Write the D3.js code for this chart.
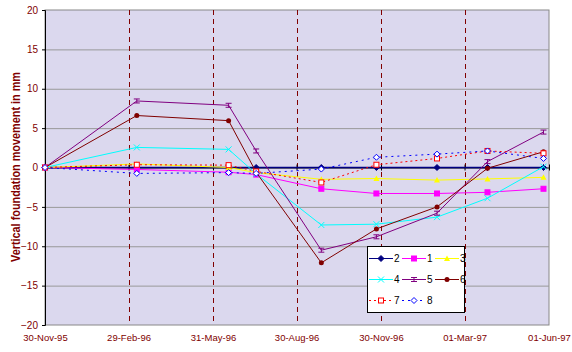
<!DOCTYPE html>
<html>
<head>
<meta charset="utf-8">
<script src="https://cdn.jsdelivr.net/npm/d3@7"></script>
<style>
  body { margin: 0; background: #fff; }
  text { font-family: Arial, "Liberation Sans", sans-serif; }
  .tick text { font-family: "Liberation Sans Narrow", "Arial Narrow", Arial, sans-serif; }
</style>
</head>
<body>
<div id="chart-area"></div>
<script>
// survey dates (x values of the points)
var dates = ["1995-11-30", "1996-03-09", "1996-06-17", "1996-07-17", "1996-09-26",
             "1996-11-25", "1997-01-30", "1997-03-26", "1997-05-26"];

var s2 = [0, 0, 0, 0, 0, 0, 0, 0, 0];
var s1 = [0, -0.25, -0.6, -0.9, -2.7, -3.3, -3.3, -3.15, -2.7];
var s3 = [0, 0.45, 0, -0.65, -1.5, -1.4, -1.6, -1.45, -1.25];
var s4 = [0, 2.55, 2.3, -0.8, -7.3, -7.2, -6.3, -3.9, 0.1];
var s5 = [0, 8.45, 7.9, 2.1, -10.5, -8.8, -5.8, 0.75, 4.5];
var s6 = [0, 6.6, 5.95, -0.6, -12.1, -7.8, -5.0, -0.1, 2.0];
var s7 = [0, 0.35, 0.3, -0.5, -1.9, 0.35, 1.15, 2.1, 1.8];
var s8 = [0, -0.75, -0.65, -0.75, -0.2, 1.3, 1.7, 2.1, 1.15];

var seriesNames = ["2", "1", "3", "4", "5", "6", "7", "8"];
var seriesVals = [s2, s1, s3, s4, s5, s6, s7, s8];
var seriesColors = ["#000080", "#ff00ff", "#ffff00", "#00ffff", "#800080", "#800000", "#ff0000", "#0000ff"];
var seriesDash = [null, null, null, null, null, null, "2,3", "2,4"];
var seriesMarker = ["diamond", "square", "triangle", "cross", "bar", "circle", "osquare", "odiamond"];

var tickDates = ["1995-11-30", "1996-02-29", "1996-05-31", "1996-08-30", "1996-11-30", "1997-03-01", "1997-06-01"];
var dashDates = ["1996-02-29", "1996-05-31", "1996-08-30", "1996-11-30", "1997-03-01"];
var yTicks = [-20, -15, -10, -5, 0, 5, 10, 15, 20];

var parse = d3.timeParse("%Y-%m-%d");
var fmt = d3.timeFormat("%d-%b-%y");

var margin = {left: 45, right: 23, top: 10, bottom: 27};
var width = 572 - margin.left - margin.right;
var height = 352 - margin.top - margin.bottom;

var svg = d3.select("#chart-area").append("svg")
  .attr("width", 572)
  .attr("height", 352);

var g = svg.append("g")
  .attr("transform", "translate(" + margin.left + "," + margin.top + ")");

var x = d3.scaleTime()
  .domain([parse(tickDates[0]), parse(tickDates[tickDates.length - 1])])
  .range([0, width]);

var y = d3.scaleLinear().domain([-20, 20]).range([height, 0]);

// plot area
g.append("rect")
  .attr("width", width).attr("height", height)
  .attr("fill", "#dbd8ee")
  .attr("stroke", "#888").attr("stroke-width", 1);

// grid
g.selectAll(".grid").data(yTicks.filter(d => d != 0 && d != 20 && d != -20))
  .enter().append("line")
  .attr("x1", 0).attr("x2", width)
  .attr("y1", d => y(d) + 0.5).attr("y2", d => y(d) + 0.5)
  .attr("stroke", "#999");

// dashed verticals
g.selectAll(".vdash").data(dashDates)
  .enter().append("line")
  .attr("x1", d => Math.round(x(parse(d))) + 0.5).attr("x2", d => Math.round(x(parse(d))) + 0.5)
  .attr("y1", 0).attr("y2", height)
  .attr("stroke", "#800000").attr("stroke-dasharray", "5,4");

// y axis
var yAxis = g.append("g")
  .call(d3.axisLeft(y).tickValues(yTicks).tickSize(3).tickPadding(4));
yAxis.select(".domain").attr("stroke", "#000");
yAxis.selectAll("text").attr("fill", "#800000").style("fill", "#800000").attr("font-size", "10px");

// zero axis with ticks
var zAxis = g.append("g")
  .attr("transform", "translate(0," + y(0) + ")")
  .call(d3.axisBottom(x).tickValues(tickDates.map(parse)).tickSizeInner(3).tickSizeOuter(0).tickFormat(""));
zAxis.select(".domain").attr("stroke", "#000");
zAxis.selectAll(".tick line").attr("y1", -3).attr("stroke", "#000");

// bottom labels
var xAxis = g.append("g")
  .attr("transform", "translate(0," + height + ")")
  .call(d3.axisBottom(x).tickValues(tickDates.map(parse)).tickSize(0).tickPadding(9).tickFormat(fmt));
xAxis.select(".domain").remove();
xAxis.selectAll("text").attr("fill", "#800000").style("fill", "#800000").attr("font-size", "9.5px");

// y title
svg.append("text")
  .attr("transform", "translate(20,262) rotate(-90)")
  .attr("text-anchor", "start")
  .attr("font-size", "12.5px")
  .attr("font-weight", "bold")
  .attr("fill", "#800000")
  .attr("textLength", 190)
  .attr("lengthAdjust", "spacingAndGlyphs")
  .text("Vertical foundation movement in mm");

function marker(sel, type, color) {
  if (type == "diamond" || type == "odiamond") {
    sel.append("path").attr("d", "M0,-3L3,0L0,3L-3,0Z")
      .attr("fill", type == "diamond" ? color : "#fff").attr("stroke", color);
  } else if (type == "square" || type == "osquare") {
    sel.append("rect").attr("x", -2.5).attr("y", -2.5).attr("width", 5).attr("height", 5)
      .attr("fill", type == "square" ? color : "#fff").attr("stroke", color);
  } else if (type == "triangle") {
    sel.append("path").attr("d", "M0,-3L3,2.5L-3,2.5Z").attr("fill", color);
  } else if (type == "cross") {
    sel.append("path").attr("d", "M-3,-3L3,3M3,-3L-3,3").attr("stroke", color);
  } else if (type == "bar") {
    sel.append("path").attr("d", "M-3,-2L3,-2M0,-2L0,2M-3,2L3,2").attr("stroke", color);
  } else {
    sel.append("circle").attr("r", 2.5).attr("fill", color);
  }
}

var line = d3.line().x(d => x(d.date)).y(d => y(d.v));

seriesVals.forEach(function(vals, i) {
  var pts = vals.map((v, j) => ({date: parse(dates[j]), v: v}));
  g.append("path").datum(pts)
    .attr("d", line)
    .attr("fill", "none")
    .attr("stroke", seriesColors[i])
    .attr("stroke-width", i == 0 ? 1.5 : 1)
    .attr("stroke-dasharray", seriesDash[i]);
  g.selectAll(".m" + i).data(pts).enter().append("g")
    .attr("transform", d => "translate(" + x(d.date) + "," + y(d.v) + ")")
    .each(function() { marker(d3.select(this), seriesMarker[i], seriesColors[i]); });
});

// legend
var lg = svg.append("g").attr("transform", "translate(367,246)");
lg.append("rect").attr("x", 0.5).attr("y", 0.5).attr("width", 97).attr("height", 66)
  .attr("fill", "#fff").attr("stroke", "#000");
seriesNames.forEach(function(name, i) {
  var col = i % 3, row = Math.floor(i / 3);
  var item = lg.append("g").attr("transform", "translate(" + (2 + col * 33) + "," + (12 + row * 21) + ")");
  item.append("line").attr("x1", 0).attr("x2", 24).attr("y1", 0.5).attr("y2", 0.5)
    .attr("stroke", seriesColors[i]).attr("stroke-dasharray", seriesDash[i]);
  var m = item.append("g").attr("transform", "translate(12,0.5)");
  marker(m, seriesMarker[i], seriesColors[i]);
  item.append("text").attr("x", 25).attr("y", 4).attr("font-size", "10px").attr("fill", "#000").text(name);
});
</script>
</body>
</html>
